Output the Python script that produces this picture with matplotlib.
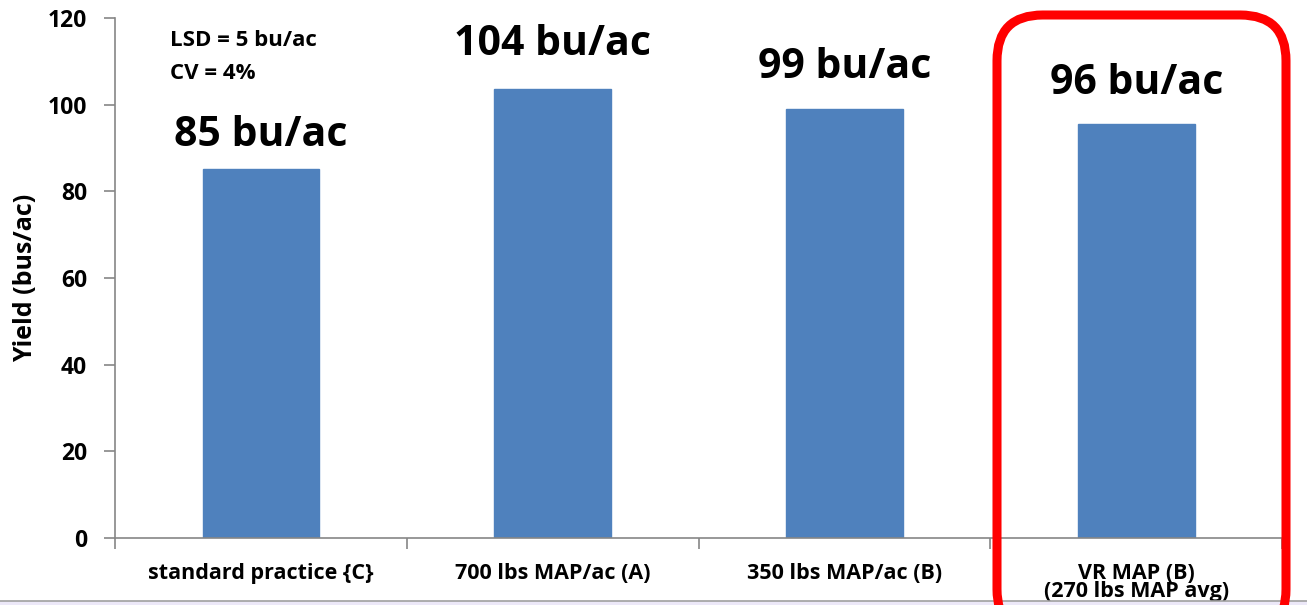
import matplotlib.pyplot as plt
from matplotlib.patches import FancyBboxPatch, Rectangle

plt.rcParams['font.family'] = ['Open Sans', 'DejaVu Sans']
plt.rcParams['font.weight'] = 'bold'

categories = ['standard practice {C}', '700 lbs MAP/ac (A)', '350 lbs MAP/ac (B)',
              'VR MAP (B)\n(270 lbs MAP avg)']
yields = [85.2, 103.6, 99.0, 95.6]
value_labels = ['85 bu/ac', '104 bu/ac', '99 bu/ac', '96 bu/ac']
label_y = [93, 114, 108.7, 104.8]

fig = plt.figure(figsize=(13.07, 6.05), dpi=100)
ax = fig.add_axes([0.088, 0.111, 0.893, 0.859])

x = range(len(categories))
ax.bar(x, yields, width=0.4, color='#4F81BD', edgecolor='#4F81BD')

for i, (lab, ly) in enumerate(zip(value_labels, label_y)):
    ax.text(i, ly, lab, ha='center', va='center', fontsize=29.5, fontweight='bold')

ax.text(-0.31, 114.8, 'LSD = 5 bu/ac', fontsize=16, fontweight='bold', va='center')
ax.text(-0.31, 107.2, 'CV = 4%', fontsize=16, fontweight='bold', va='center')

ax.set_xlim(-0.5, 3.5)
ax.set_ylim(0, 120)
ax.set_yticks(range(0, 121, 20))
ax.set_ylabel('Yield (bus/ac)', fontsize=18, fontweight='bold', labelpad=7)

# category boundaries as x ticks, labels in between
ax.set_xticks([-0.5, 0.5, 1.5, 2.5, 3.5])
ax.set_xticklabels([])
ax.set_xticks(list(x), minor=True)
ax.set_xticklabels(categories, minor=True, fontsize=15.5, fontweight='bold',
                   linespacing=0.8, va='top')
ax.tick_params(axis='x', which='minor', length=0, pad=18)
ax.tick_params(axis='x', which='major', length=8, color='#868686', width=1.2)
ax.tick_params(axis='y', length=8, color='#868686', width=1.2, labelsize=16.5, pad=12)
for lab in ax.get_yticklabels():
    lab.set_fontweight('bold')

for s in ['top', 'right']:
    ax.spines[s].set_visible(False)
for s in ['left', 'bottom']:
    ax.spines[s].set_color('#868686')
    ax.spines[s].set_linewidth(1.2)

# bottom strip
fig.patches.append(Rectangle((0, 0), 1, 4 / 605, transform=fig.transFigure,
                             facecolor='#ECE8F8', edgecolor='none', zorder=5))
fig.lines.append(plt.Line2D([0, 1], [4 / 605, 4 / 605], transform=fig.transFigure,
                            color='#A0A0A0', linewidth=1.2, zorder=6))

# red highlight box
fig.patches.append(FancyBboxPatch((997 / 1307, -30 / 605), 289 / 1307, 620 / 605,
                                  boxstyle='round,pad=0,rounding_size=0.035',
                                  transform=fig.transFigure, facecolor='none',
                                  edgecolor='#FF0000', linewidth=6.5, zorder=7,
                                  mutation_aspect=2.16))

fig.savefig('out.png', dpi=100)
